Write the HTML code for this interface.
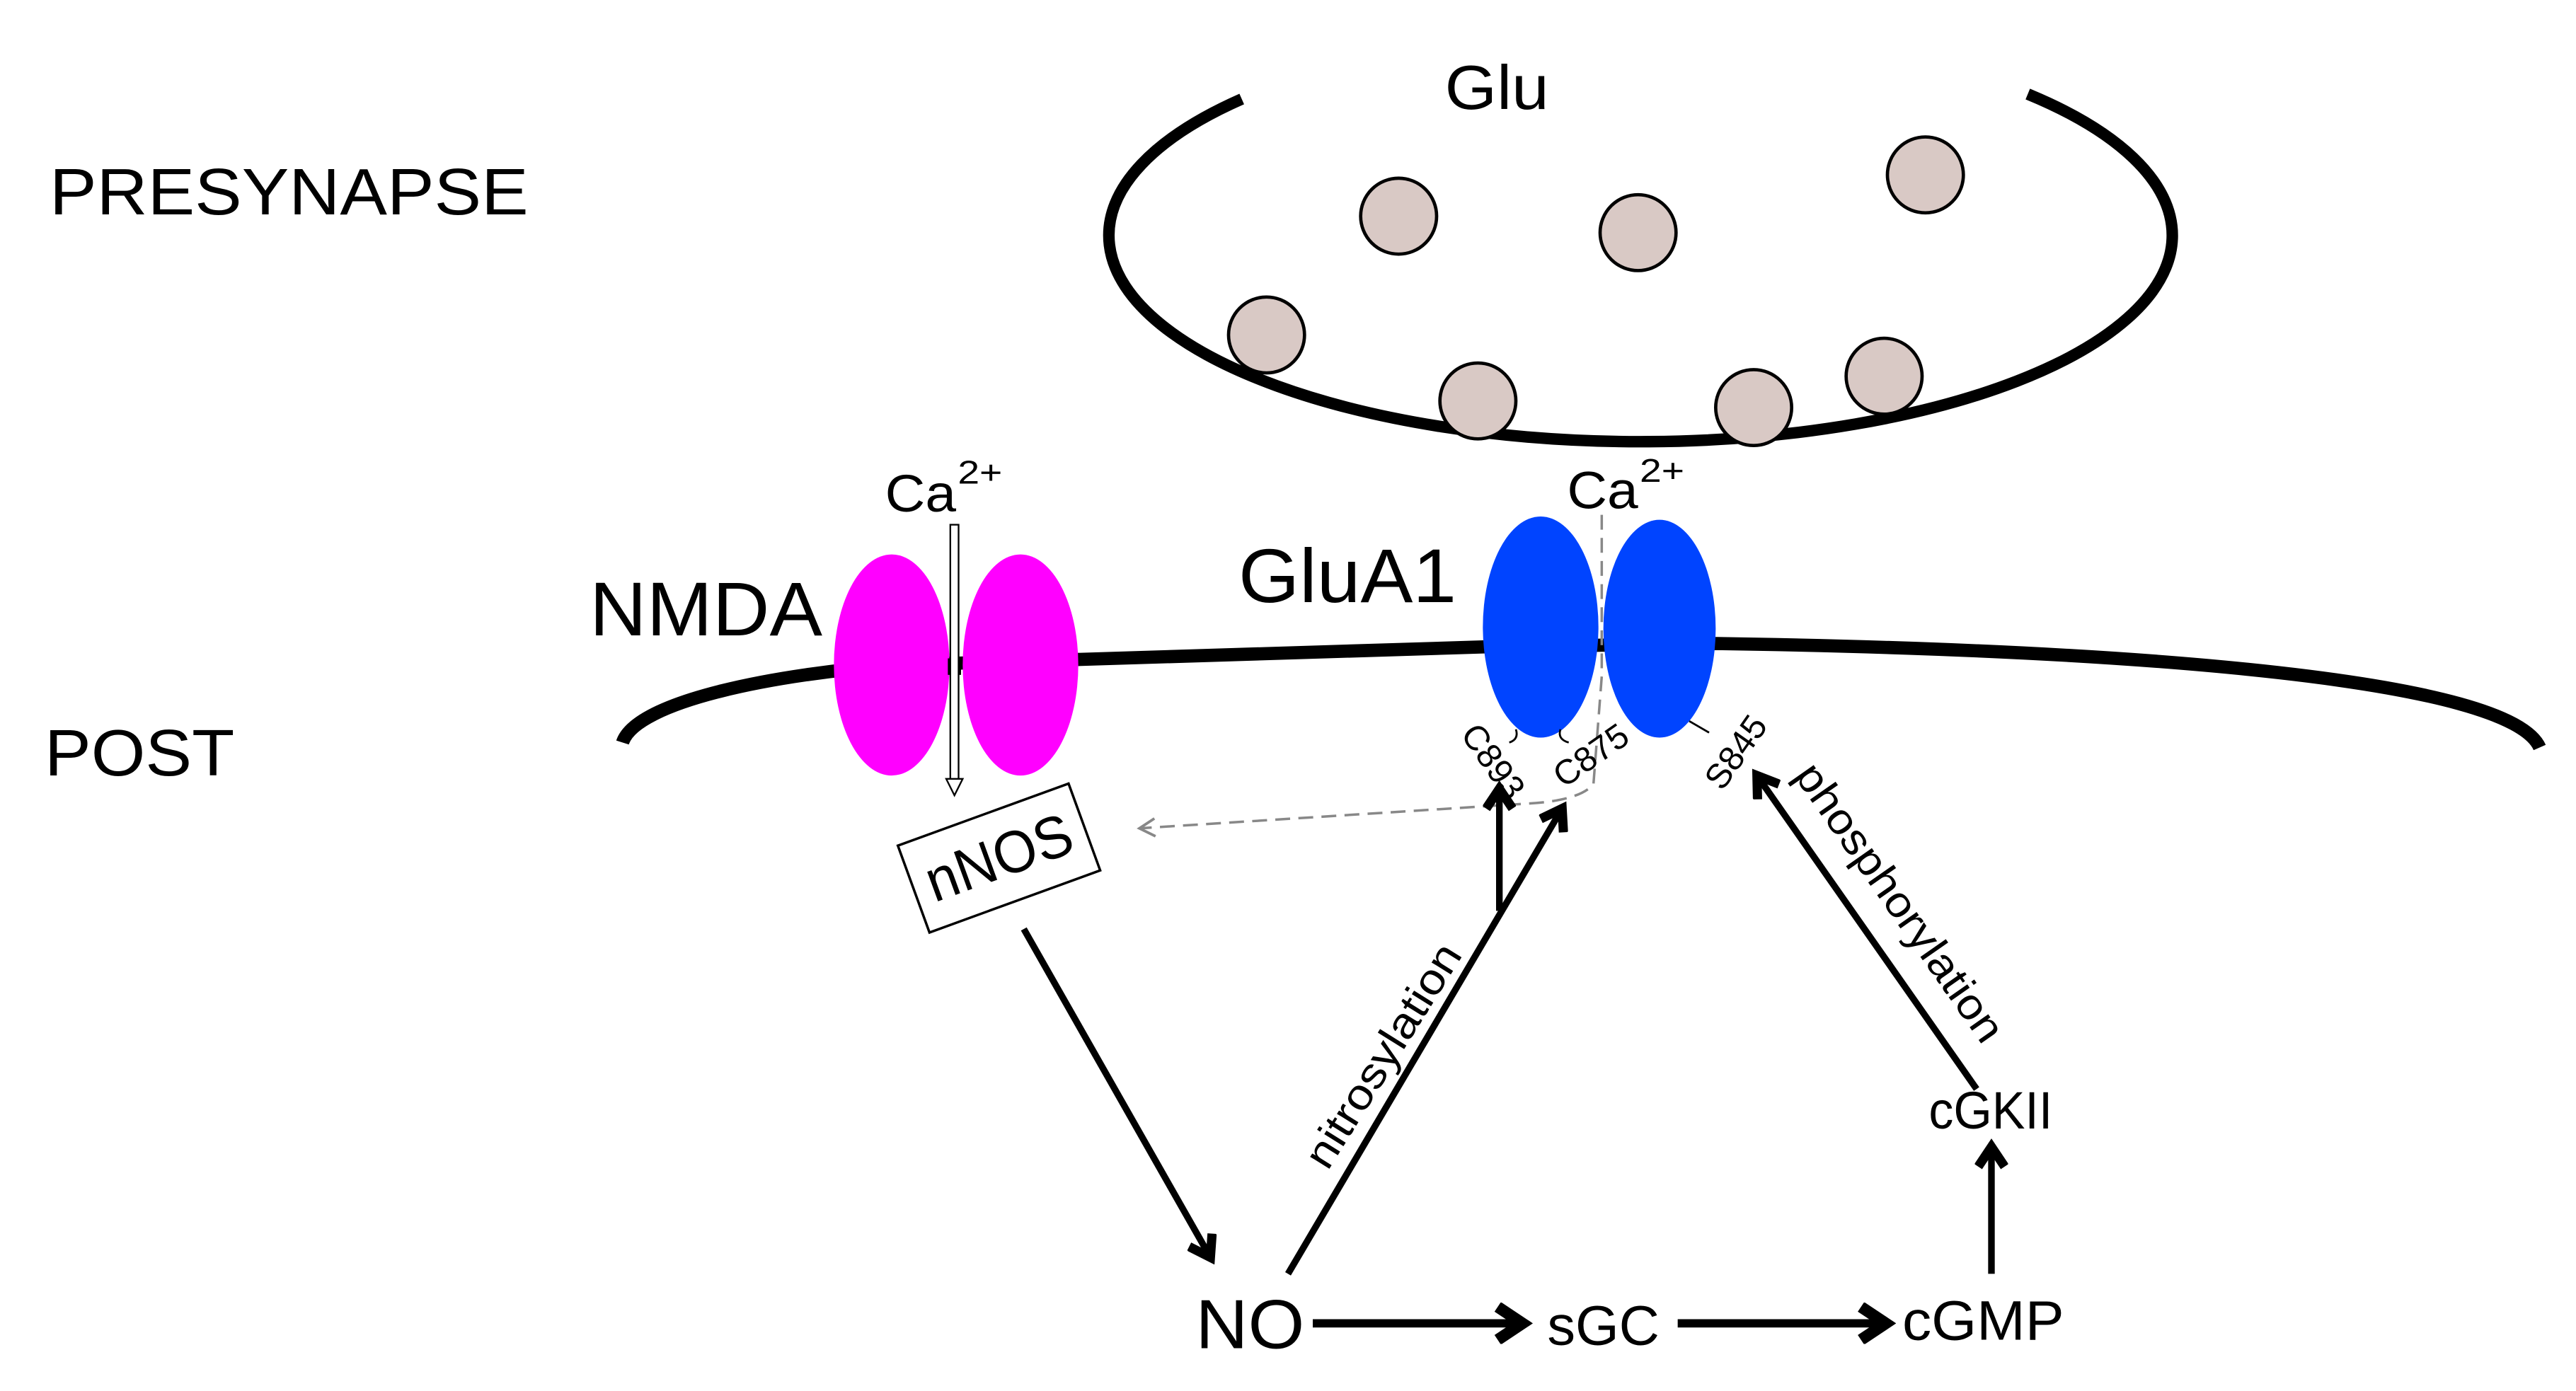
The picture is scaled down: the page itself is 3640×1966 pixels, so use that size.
<!DOCTYPE html>
<html><head><meta charset="utf-8"><style>
html,body{margin:0;padding:0;background:#fff;}
svg{display:block;}
text{font-family:"Liberation Sans",Arial,sans-serif;fill:#000;}
</style></head><body>
<svg width="3640" height="1966" viewBox="0 0 1560 843" preserveAspectRatio="none" xmlns="http://www.w3.org/2000/svg">
<defs>
<marker id="ah" viewBox="0 0 10 10" refX="7.5" refY="5" markerWidth="5" markerHeight="5" orient="auto" markerUnits="strokeWidth">
<path d="M1.5,1 L7.5,5 L1.5,9" fill="none" stroke="#000" stroke-width="2.8" stroke-linejoin="miter"/>
</marker>
<marker id="ahg" viewBox="0 0 10 10" refX="8" refY="5" markerWidth="9" markerHeight="9" orient="auto" markerUnits="strokeWidth">
<path d="M1,1 L8,5 L1,9" fill="none" stroke="#888" stroke-width="1.2"/>
</marker>
</defs>

<text x="30" y="130" font-size="40" textLength="290" lengthAdjust="spacingAndGlyphs">PRESYNAPSE</text>
<text x="27" y="470" font-size="40" textLength="115" lengthAdjust="spacingAndGlyphs">POST</text>

<!-- presynapse -->
<path d="M752,60 A322,125 0 1 0 1228,57" fill="none" stroke="#000" stroke-width="7"/>
<text x="875" y="66" font-size="38" textLength="63" lengthAdjust="spacingAndGlyphs">Glu</text>
<g fill="#d9c9c5" stroke="#000" stroke-width="2">
<circle cx="847" cy="131" r="23"/>
<circle cx="992" cy="141" r="23"/>
<circle cx="1166" cy="106" r="23"/>
<circle cx="767" cy="203" r="23"/>
<circle cx="895" cy="243" r="23"/>
<circle cx="1062" cy="247" r="23"/>
<circle cx="1141" cy="228" r="23"/>
</g>

<!-- postsynaptic membrane -->
<path d="M377,450 C385,425 470,408 545,403 L900,392 L1040,390 C1300,394 1520,412 1538,453" fill="none" stroke="#000" stroke-width="8"/>

<!-- NMDA -->
<ellipse cx="540" cy="403" rx="35" ry="67" fill="#ff00ff"/>
<ellipse cx="618" cy="403" rx="35" ry="67" fill="#ff00ff"/>
<rect x="574" y="399" width="8" height="10" fill="#000"/>
<text x="357" y="385" font-size="46" textLength="141" lengthAdjust="spacingAndGlyphs">NMDA</text>
<text x="536" y="310" font-size="32" textLength="43" lengthAdjust="spacingAndGlyphs">Ca</text>
<text x="580" y="293" font-size="20" textLength="27" lengthAdjust="spacingAndGlyphs">2+</text>
<rect x="575.5" y="318" width="5" height="155" fill="#fff" stroke="#000" stroke-width="1"/>
<path d="M573,472 L578,482 L583,472 Z" fill="#fff" stroke="#000" stroke-width="1"/>

<!-- GluA1 -->
<text x="750" y="365" font-size="46" textLength="132" lengthAdjust="spacingAndGlyphs">GluA1</text>
<ellipse cx="933" cy="380" rx="35" ry="67" fill="#0044ff"/>
<ellipse cx="1005" cy="381" rx="34" ry="66" fill="#0044ff"/>
<text x="949" y="308" font-size="32" textLength="43" lengthAdjust="spacingAndGlyphs">Ca</text>
<text x="993" y="292" font-size="20" textLength="27" lengthAdjust="spacingAndGlyphs">2+</text>
<path d="M970,312 L970,410 L965,475 C960,482 945,486 925,487 L690,502" fill="none" stroke="#888" stroke-width="1.5" stroke-dasharray="9,5" marker-end="url(#ahg)"/>
<!-- ticks -->
<path d="M918,442 q2,6 -4,8" fill="none" stroke="#000" stroke-width="1.2"/>
<path d="M945,442 q-2,6 5,8" fill="none" stroke="#000" stroke-width="1.2"/>
<path d="M1023,437 L1035,444" fill="none" stroke="#000" stroke-width="1.2"/>
<text font-size="21" transform="translate(884,445) rotate(55)">C893</text>
<text font-size="21" transform="translate(947,478) rotate(-35)">C875</text>
<text font-size="21" transform="translate(1043,480) rotate(-55)">S845</text>

<!-- nNOS -->
<g transform="translate(605,520) rotate(-20)">
<rect x="-55" y="-28" width="110" height="56" fill="#fff" stroke="#000" stroke-width="1.5"/>
<text x="0" y="12" font-size="36" text-anchor="middle" textLength="92" lengthAdjust="spacingAndGlyphs">nNOS</text>
</g>

<!-- arrows -->
<g stroke="#000" stroke-width="4" fill="none">
<line x1="620" y1="563" x2="733" y2="762" marker-end="url(#ah)"/>
<line x1="780" y1="772" x2="946" y2="490" marker-end="url(#ah)"/>
<line x1="908" y1="552" x2="908" y2="478" marker-end="url(#ah)"/>
<line x1="1197" y1="660" x2="1064" y2="470" marker-end="url(#ah)"/>
<line x1="1206" y1="772" x2="1206" y2="695" marker-end="url(#ah)"/>
<line x1="795" y1="802" x2="922" y2="802" stroke-width="5" marker-end="url(#ah)"/>
<line x1="1016" y1="802" x2="1142" y2="802" stroke-width="5" marker-end="url(#ah)"/>
</g>

<text font-size="26" transform="translate(804,710) rotate(-58)" textLength="155" lengthAdjust="spacingAndGlyphs">nitrosylation</text>
<text font-size="26" transform="translate(1086,470) rotate(55)" textLength="200" lengthAdjust="spacingAndGlyphs">phosphorylation</text>

<text x="1168" y="684" font-size="32" textLength="75" lengthAdjust="spacingAndGlyphs">cGKII</text>
<text x="724" y="817" font-size="42" textLength="66" lengthAdjust="spacingAndGlyphs">NO</text>
<text x="937" y="815" font-size="34" textLength="68" lengthAdjust="spacingAndGlyphs">sGC</text>
<text x="1152" y="812" font-size="34" textLength="98" lengthAdjust="spacingAndGlyphs">cGMP</text>
</svg>
</body></html>
